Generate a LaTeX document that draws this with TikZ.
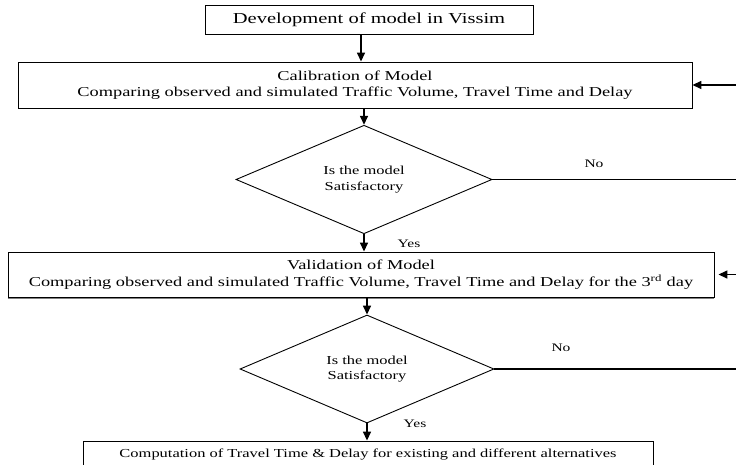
\documentclass[tikz,border=0pt]{standalone}
\usepackage{fontspec}
\setmainfont{Liberation Serif}
\usetikzlibrary{shapes.geometric,arrows.meta}
\newcommand{\sx}[1]{\scalebox{1.35}[1]{#1}}
\begin{document}
\begin{tikzpicture}[x=1pt,y=-1pt,
  boxnode/.style={draw, line width=0.9pt, inner sep=0pt, align=center},
  decnode/.style={diamond, draw, line width=0.9pt, inner sep=0pt, aspect=1, align=center},
  conn/.style={line width=1.5pt},
  arr/.style={conn, -{Triangle[length=9pt,width=8pt]}},
  lbl/.style={inner sep=0pt, font=\fontsize{11.5}{13}\selectfont}
]
\clip (0,0) rectangle (736,465);
\fill[white] (0,0) rectangle (736,465);

\node[boxnode, minimum width=328pt, minimum height=29pt, font=\fontsize{15.2}{17}\selectfont] (b1) at (369,19.5) {\sx{Development of model in Vissim}};
\node[boxnode, minimum width=674pt, minimum height=46pt, font=\fontsize{13.6}{15.5}\selectfont] (b2) at (355,85) {\sx{Calibration of Model}\\\sx{Comparing observed and simulated Traffic Volume, Travel Time and Delay}};
\node[decnode, minimum width=256pt, minimum height=87pt, font=\fontsize{12.2}{16}\selectfont] (d1) at (364,179.5) {\sx{Is the model}\\\sx{Satisfactory}};
\node[boxnode, minimum width=706pt, minimum height=45pt, font=\fontsize{13.6}{17}\selectfont] (b3) at (361,274.5) {\sx{Validation of Model}\\\sx{Comparing observed and simulated Traffic Volume, Travel Time and Delay for the 3\textsuperscript{rd} day}};
\draw[gray, line width=1pt] ([yshift=-1pt]b3.south west) -- ([yshift=-1pt]b3.south east);
\node[decnode, minimum width=254pt, minimum height=87pt, font=\fontsize{12.2}{15.5}\selectfont] (d2) at (367,369) {\sx{Is the model}\\\sx{Satisfactory}};
\node[boxnode, minimum width=570pt, minimum height=27pt, font=\fontsize{12.2}{14}\selectfont] (b4) at (368,454.5) {\sx{Computation of Travel Time \& Delay for existing and different alternatives}};

\node[lbl] (no1) at (594,164) {\sx{No}};
\node[lbl] (yes1) at (409,244) {\sx{Yes}};
\node[lbl] (no2) at (561,348) {\sx{No}};
\node[lbl] (yes2) at (415,424) {\sx{Yes}};

\coordinate (r1) at (750,179.5);
\coordinate (r2) at (750,369);

\draw[arr] ([xshift=-8pt]b1.south) -- ([xshift=-8pt]b1.south |- b2.north);
\draw[arr] (d1.north |- b2.south) -- (d1.north);
\draw[arr] (d1.south) -- (d1.south |- b3.north);
\draw[arr] (d2.north |- b3.south) -- (d2.north);
\draw[arr] (d2.south) -- (d2.south |- b4.north);
\draw[arr] (d1.east) -- (r1) -- (r1 |- b2.east) -- (b2.east);
\draw[arr, shorten >=4pt] (d2.east) -- (r2) -- (r2 |- b3.east) -- (b3.east);
\end{tikzpicture}
\end{document}
